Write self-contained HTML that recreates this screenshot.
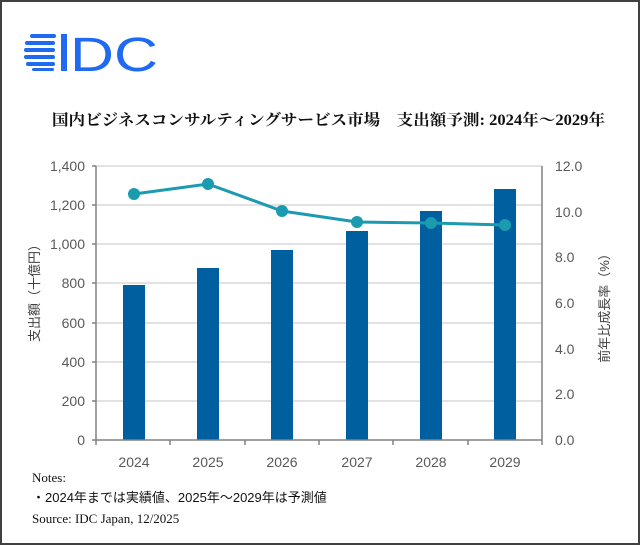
<!DOCTYPE html>
<html><head><meta charset="utf-8"><style>
body{margin:0;width:640px;height:545px;background:#fff;overflow:hidden}
.f{position:absolute;left:0;top:0;width:636px;height:541px;border:2px solid #404040;}
</style></head><body><div class="f"></div>
<svg width="640" height="545" style="position:absolute;left:0;top:0" font-family="'Liberation Sans','Noto Sans CJK JP',sans-serif">
<g fill="#1f6af0">
<rect x="30" y="34" width="26" height="4" rx="2"/><rect x="25" y="41" width="30" height="4" rx="2"/><rect x="24" y="48" width="31" height="4" rx="2"/><rect x="24" y="55" width="31" height="4" rx="2"/><rect x="26" y="62" width="29" height="4" rx="2"/><rect x="32" y="68" width="22" height="3" rx="1.5"/>
<rect x="61" y="34" width="6" height="37"/>
</g>
<text x="70" y="71" font-size="48" fill="#1f6af0" font-family="'Liberation Sans',sans-serif" textLength="88" lengthAdjust="spacingAndGlyphs">DC</text>
<text x="52" y="125" font-size="15.5" font-weight="bold" fill="#111" textLength="553" lengthAdjust="spacingAndGlyphs" font-family="'Liberation Serif','Noto Serif CJK SC','Noto Sans CJK JP',serif">国内ビジネスコンサルティングサービス市場　支出額予測: 2024年～2029年</text>
<g stroke="#d9d9d9" stroke-width="1.5">
<line x1="96" x2="542" y1="166" y2="166"/><line x1="96" x2="542" y1="205" y2="205"/><line x1="96" x2="542" y1="244" y2="244"/><line x1="96" x2="542" y1="283" y2="283"/><line x1="96" x2="542" y1="323" y2="323"/><line x1="96" x2="542" y1="362" y2="362"/><line x1="96" x2="542" y1="401" y2="401"/>
</g>
<g fill="#00609f">
<rect x="123" y="285" width="22" height="155"/><rect x="197" y="268" width="22" height="172"/><rect x="271" y="250" width="22" height="190"/><rect x="346" y="231" width="22" height="209"/><rect x="420" y="211" width="22" height="229"/><rect x="494" y="189" width="22" height="251"/>
</g>
<g stroke="#808080" stroke-width="1.5" fill="none">
<line x1="96" y1="166" x2="96" y2="440"/><line x1="542" y1="166" x2="542" y2="440"/><line x1="96" y1="440" x2="542" y2="440"/>
<path d="M92 166H96M92 205H96M92 244H96M92 283H96M92 323H96M92 362H96M92 401H96M92 440H96"/>
<path d="M96 440v5M170 440v5M245 440v5M319 440v5M393 440v5M468 440v5M542 440v5"/>
</g>
<polyline points="134,194 208,184 282,211 357,222 431,223 505,225" fill="none" stroke="#1a9bb0" stroke-width="3"/>
<g fill="#1a9bb0"><circle cx="134" cy="194" r="6"/><circle cx="208" cy="184" r="6"/><circle cx="282" cy="211" r="6"/><circle cx="357" cy="222" r="6"/><circle cx="431" cy="223" r="6"/><circle cx="505" cy="225" r="6"/></g>
<g font-size="14" fill="#595959" text-anchor="end">
<text x="85" y="171">1,400</text><text x="85" y="210">1,200</text><text x="85" y="249">1,000</text><text x="85" y="288">800</text><text x="85" y="328">600</text><text x="85" y="367">400</text><text x="85" y="406">200</text><text x="85" y="445">0</text>
</g>
<g font-size="14" fill="#595959">
<text x="555" y="171">12.0</text><text x="555" y="217">10.0</text><text x="555" y="262">8.0</text><text x="555" y="308">6.0</text><text x="555" y="354">4.0</text><text x="555" y="399">2.0</text><text x="555" y="445">0.0</text>
</g>
<g font-size="14" fill="#595959" text-anchor="middle">
<text x="134" y="467">2024</text><text x="208" y="467">2025</text><text x="282" y="467">2026</text><text x="357" y="467">2027</text><text x="431" y="467">2028</text><text x="505" y="467">2029</text>
</g>
<text transform="translate(39,290) rotate(-90)" font-size="13" fill="#404040" text-anchor="middle">支出額（十億円）</text>
<text transform="translate(609,305) rotate(-90)" font-size="13" fill="#404040" text-anchor="middle">前年比成長率（%）</text>
<g font-size="13" fill="#111" font-family="'Liberation Serif','Noto Serif CJK SC',serif">
<text x="32" y="482">Notes:</text>
<text x="32" y="502" font-family="'Liberation Sans','Noto Sans CJK JP',sans-serif">・2024年までは実績値、2025年～2029年は予測値</text>
<text x="32" y="523">Source: IDC Japan, 12/2025</text>
</g>
</svg>
</body></html>
